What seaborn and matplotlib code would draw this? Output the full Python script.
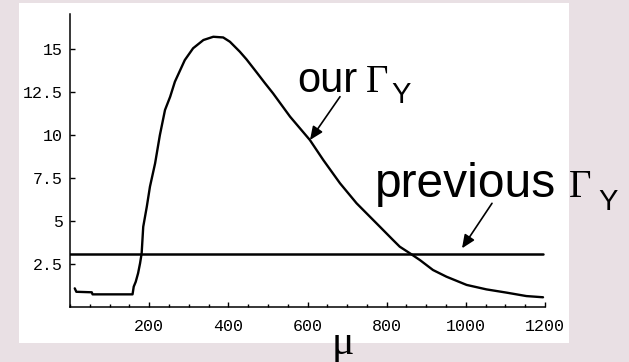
import matplotlib
matplotlib.use("Agg")
import matplotlib.pyplot as plt
from matplotlib.patches import Rectangle
from matplotlib.text import Annotation
from matplotlib.ticker import MultipleLocator, FixedLocator, FixedFormatter
import seaborn as sns
import pandas as pd

# Decay width Gamma_Y as a function of mu
mu = [12, 16, 55, 57, 158, 161, 166, 172, 177, 181, 185, 194, 202, 215, 227,
      240, 253, 265, 290, 311, 337, 362, 387, 404, 429, 446, 471, 492, 513,
      556, 606, 640, 682, 724, 783, 816, 833, 859, 884, 917, 951, 1002, 1052,
      1103, 1153, 1195]
gamma_ours = [1.07, 0.87, 0.84, 0.72, 0.72, 1.17, 1.45, 1.95, 2.53, 3.11,
              4.66, 5.83, 7.0, 8.36, 10.0, 11.47, 12.24, 13.12, 14.38, 15.07,
              15.55, 15.74, 15.70, 15.45, 14.87, 14.42, 13.68, 13.05, 12.44,
              11.08, 9.72, 8.55, 7.2, 6.03, 4.66, 3.89, 3.5, 3.11, 2.72, 2.14,
              1.75, 1.27, 1.01, 0.82, 0.62, 0.55]
mu_prev = [0, 1195]
gamma_prev = [3.08, 3.08]

x_ticks = [200, 400, 600, 800, 1000, 1200]
y_ticks = [2.5, 5, 7.5, 10, 12.5, 15]
y_tick_labels = ["2.5", "5", "7.5", "10", "12.5", "15"]

sns.set_style("ticks")
BG = "#E9E0E4"
W, H = 629, 362
fig = plt.figure(figsize=(W / 100, H / 100), dpi=100, facecolor=BG)

# white panel behind the plot
fig.patches.append(Rectangle((19 / W, (H - 343) / H), 550 / W, 340 / H,
                             transform=fig.transFigure, facecolor="white",
                             edgecolor="none", zorder=-5))

ax = fig.add_axes([70 / W, (H - 306.7) / H, 475 / W, (306.7 - 14.3) / H])
ax.set_facecolor("none")
ax.set_zorder(2)

df = pd.DataFrame({"mu": mu, "gamma": gamma_ours})
df_prev = pd.DataFrame({"mu": mu_prev, "gamma": gamma_prev})
sns.lineplot(data=df, x="mu", y="gamma", sort=False, estimator=None,
             color="black", linewidth=1.7, ax=ax)
sns.lineplot(data=df_prev, x="mu", y="gamma", sort=False, estimator=None,
             color="black", linewidth=1.8, ax=ax)

ax.set_xlim(0, 1200)
ax.set_ylim(0, 17.05)
ax.set_xlabel("")
ax.set_ylabel("")
for side in ("top", "right"):
    ax.spines[side].set_visible(False)
for side in ("left", "bottom"):
    ax.spines[side].set_linewidth(1.1)
    ax.spines[side].set_color("black")

ax.xaxis.set_major_locator(FixedLocator(x_ticks))
ax.xaxis.set_minor_locator(MultipleLocator(50))
ax.yaxis.set_major_locator(FixedLocator(y_ticks))
ax.yaxis.set_major_formatter(FixedFormatter(y_tick_labels))
ax.tick_params(axis="both", which="major", direction="in", length=3.5,
               width=1, color="black", labelsize=12, labelcolor="black")
ax.tick_params(axis="x", which="minor", direction="in", length=2,
               width=1, color="black")
ax.tick_params(axis="x", which="major", pad=9)
ax.tick_params(axis="y", which="major", pad=5)
for lab in ax.get_xticklabels() + ax.get_yticklabels():
    lab.set_fontfamily("Liberation Mono")


def px(x, y):
    return (x, H - y)


sans = "Liberation Sans"
serif = "Liberation Serif"
txt = dict(color="black", ha="left", va="baseline")

# labels for the two curves
fig.text(297 / W, (H - 91.7) / H, "our", family=sans, fontsize=30, **txt)
fig.text(366 / W, (H - 91.7) / H, "\u0393", family=serif, fontsize=28, **txt)
fig.text(391 / W, (H - 103) / H, "Y", family=sans, fontsize=21, **txt)

fig.text(375 / W, (H - 196.7) / H, "previous", family=sans, fontsize=34.5,
         **txt)
fig.text(569 / W, (H - 196.7) / H, "\u0393", family=serif, fontsize=28, **txt)
fig.text(598 / W, (H - 210) / H, "Y", family=sans, fontsize=21, **txt)

arrow = dict(arrowstyle="-|>,head_length=0.8,head_width=0.35",
             color="black", lw=1.2, shrinkA=0, shrinkB=0, mutation_scale=10)
for tip, tail in [((310, 140), (340, 96.7)), ((462, 248.3), (492, 203.3))]:
    a = Annotation("", xy=px(*tip), xytext=px(*tail),
                   xycoords="figure pixels", textcoords="figure pixels",
                   arrowprops=arrow)
    a.set_zorder(3)
    fig.add_artist(a)

# axis label
fig.text(343 / W, (H - 354) / H, "\u03bc", family=serif, fontsize=30,
         color="black", ha="center", va="baseline")

fig.savefig("out.png", dpi=100, facecolor=BG)
